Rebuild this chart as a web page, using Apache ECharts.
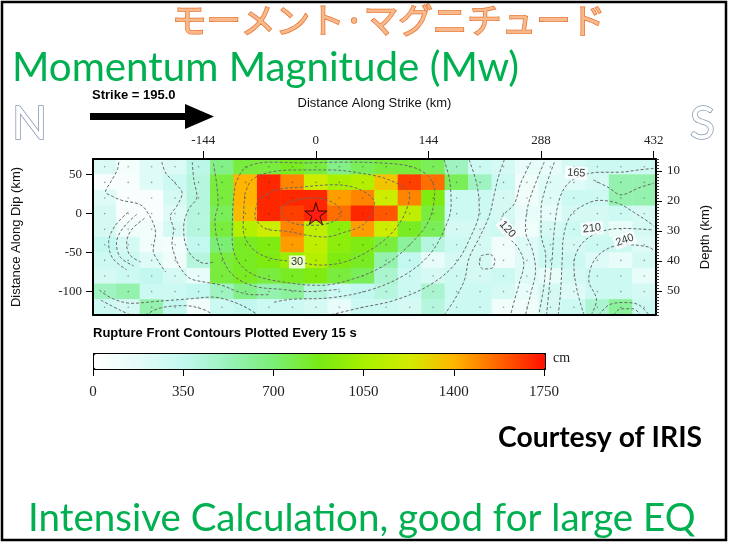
<!DOCTYPE html>
<html><head><meta charset="utf-8">
<script src="https://cdn.jsdelivr.net/npm/echarts@6/dist/echarts.min.js"></script>
<style>html,body{margin:0;padding:0;background:#fff}#c{width:729px;height:544px}</style>
</head><body><div id="c"></div>
<script>
// ---- data ----
const strikeCenters = [-270,-240,-210,-180,-150,-120,-90,-60,-30,0,30,60,90,120,150,180,210,240,270,300,330,360,390,420];
const dipCenters = [60,40,20,0,-20,-40,-60,-80,-100,-120]; // top to bottom
const slipRow0 = [220,80,200,220,380,650,800,800,850,800,650,750,800,800,750,500,300,250,150,150,250,300,300,300];
const slipRow1 = [50,50,200,300,400,800,1400,1700,1500,1200,1050,1100,1350,1650,1550,750,500,300,100,200,200,250,550,550];
const slipRow2 = [200,50,50,250,400,800,1400,1700,1700,1700,1450,1500,1200,1500,900,300,300,250,100,200,300,300,550,550];
const slipRow3 = [250,50,50,200,400,750,1380,1700,1650,1700,1550,1700,1600,1150,800,300,300,250,150,150,250,250,300,250];
const slipRow4 = [250,100,100,250,400,800,1100,1200,1500,1150,950,1450,1200,850,750,250,250,300,100,250,300,250,150,250];
const slipRow5 = [350,250,100,80,350,700,850,900,1450,1150,950,900,800,600,400,300,250,100,200,300,250,300,300,200];
const slipRow6 = [300,300,200,100,400,800,850,900,1000,1100,900,850,550,350,150,250,250,100,200,300,300,200,150,250];
const slipRow7 = [250,300,350,250,150,800,850,800,850,900,800,750,450,300,250,300,250,300,200,150,250,300,300,150];
const slipRow8 = [500,550,300,300,350,500,650,550,600,400,300,350,400,300,450,300,300,250,150,250,200,300,300,250];
const slipRow9 = [300,250,550,350,100,300,350,300,300,250,150,300,300,250,400,300,300,100,100,250,300,450,600,300];
const slipRows = [slipRow0,slipRow1,slipRow2,slipRow3,slipRow4,slipRow5,slipRow6,slipRow7,slipRow8,slipRow9];

const strikeTicks = [-144,0,144,288,432];
const dipTicks = [-100,-50,0,50];
const depthTicks = [10,20,30,40,50];
const hypocenter = [0,0];

// rupture-front contours (km along strike, km along dip)
const contourLines = [
  [[-240,2],[-257,-16],[-265,-37],[-260,-57],[-242,-72]],
  [[-229,-1],[-247,-19],[-255,-38],[-250,-56],[-233,-67]],
  [[-219,-6],[-236,-21],[-242,-38],[-238,-53],[-224,-62]],
  [[-252,66],[-254,56],[-262,41],[-269,28],[-260,22],[-248,17],[-224,11],[-212,-4],[-205,-25],[-208,-47],[-201,-62],[-192,-75]],
  [[-197,66],[-192,52],[-180,39],[-171,26],[-177,11],[-186,-4],[-182,-21],[-184,-38],[-180,-55],[-173,-70],[-161,-83],[-141,-88],[-120,-92],[-100,-100],[-80,-104],[-60,-104]],
  [[-158,66],[-156,43],[-152,22],[-163,5],[-169,-17],[-167,-38],[-158,-55],[-141,-64],[-131,-62]],
  [[-131,64],[-127,39],[-125,13],[-129,-8],[-127,-30],[-120,-55],[-112,-72],[-98,-85],[-75,-94],[-45,-97],[-10,-100],[30,-97]],
  [[-277,-98],[-260,-109],[-235,-115],[-209,-113],[-184,-111],[-158,-109],[-133,-107],[-112,-111],[-90,-120],[-74,-130]],
  [[-275,-111],[-250,-124],[-237,-130]],
  [[-218,-130],[-199,-121],[-167,-118],[-141,-124],[-132,-130]],
  [[-44,9],[-27,17],[-1,20],[24,13],[33,0],[20,-11],[-1,-15],[-27,-13],[-42,-4],[-44,9]],
  [[-74,17],[-52,30],[-18,34],[24,37],[58,30],[75,13],[62,-13],[33,-25],[12,-30],[-10,-28],[-35,-23],[-65,-19],[-78,-2],[-74,17]],
  [[-91,24],[-82,43],[-59,53],[-20,56],[18,56],[56,52],[94,43],[120,24],[113,-2],[94,-28],[69,-47],[37,-62],[5,-66],[-24,-62],[-59,-57],[-82,-44],[-93,-19],[-91,24]],
  [[-103,37],[-91,58],[-59,66],[-14,65],[31,66],[82,65],[133,56],[152,30],[145,-8],[120,-40],[88,-66],[50,-83],[5,-92],[-40,-88],[-78,-79],[-99,-62],[-107,-34],[-106,11],[-103,37]],
  [[164,69],[171,43],[173,11],[164,-21],[145,-53],[113,-79],[69,-98],[18,-108],[-33,-110],[-55,-114]],
  [[196,69],[206,37],[209,5],[196,-34],[177,-66],[145,-92],[101,-111],[56,-121],[18,-130]],
  [[241,69],[234,49],[228,24],[222,-2],[209,-31],[196,-57],[190,-85],[177,-111],[164,-130]],
  [[211,-54],[222,-52],[229,-60],[225,-70],[214,-71],[209,-63],[211,-54]],
  [[275,66],[262,39],[254,13],[237,-8],[241,-25],[258,-43],[266,-64],[260,-90],[254,-111],[249,-130]],
  [[292,66],[281,39],[271,9],[268,-21],[277,-47],[281,-72],[275,-102],[268,-130]],
  [[305,66],[294,34],[288,5],[288,-25],[294,-55],[292,-90],[285,-130]],
  [[295,-130],[298,-100],[302,-60],[305,-20],[311,17],[321,37],[336,47],[362,53],[387,53],[413,56],[432,58]],
  [[310,-130],[313,-100],[315,-60],[317,-28],[326,-2],[343,11],[362,17],[387,13],[406,2],[426,-11],[432,-16]],
  [[355,43],[375,33],[390,24],[413,33],[432,39]],
  [[343,-130],[334,-98],[330,-66],[339,-40],[362,-24],[394,-19],[432,-21]],
  [[352,-130],[359,-111],[349,-85],[356,-60],[375,-44],[400,-40],[426,-43],[432,-47]],
  [[362,-130],[375,-117],[394,-114],[413,-117],[426,-130]],
  [[381,-130],[390,-122],[406,-122],[415,-130]]
];
const contourLabelText = ['30','120','165','210','240'];
const contourLabelPos = [[-24,-62],[245,-20],[333,52],[353,-19],[395,-34]];

// ---- build ----
const yCats = dipCenters.slice().reverse();
const heatData = [];
const dotData = [];
slipRows.forEach((row, r) => row.forEach((v, c) => {
  heatData.push([c, dipCenters.length - 1 - r, v]);
  dotData.push([c, dipCenters.length - 1 - r]);
}));
const labelRotate = [0, -48, -4, 6, 20];
const contourSeries = contourLines.map(pts => ({
  type: 'line', xAxisIndex: 1, yAxisIndex: 1, data: pts, showSymbol: false, symbol: 'none',
  smooth: 0.35, silent: true, z: 5,
  lineStyle: { color: '#6a6a6a', width: 1, type: [3, 2] }
}));
const starPath = 'path://M50,0 L61,35 L98,35 L68,57 L79,91 L50,70 L21,91 L32,57 L2,35 L39,35 Z';
const serif = 'Liberation Serif';
const sans = 'Liberation Sans';
const plain = v => String(v);

const option = {
  animation: false,
  backgroundColor: '#fff',
  title: [
    { text: 'モーメント·マグニチュード', left: 172, top: 3, padding: 0,
      textStyle: { fontFamily: 'Noto Sans CJK JP', fontSize: 34.5, fontWeight: 'normal', color: '#f8b98c', textBorderColor: '#e8742f', textBorderWidth: 1.5 } },
    { text: 'Momentum Magnitude (Mw)', left: 12, top: 48, padding: 0,
      textStyle: { fontFamily: 'Lato', fontSize: 40.3, fontWeight: 'normal', color: '#00b050' } },
    { text: 'Strike = 195.0', left: 92, top: 89, padding: 0,
      textStyle: { fontFamily: sans, fontSize: 13, fontWeight: 'bold', color: '#000' } },
    { text: 'N', left: 12, top: 101, padding: 0,
      textStyle: { fontFamily: 'Lato', fontSize: 46, fontWeight: 'normal', color: '#fff', textBorderColor: '#8496b0', textBorderWidth: 1.5 } },
    { text: 'S', left: 690, top: 101, padding: 0,
      textStyle: { fontFamily: 'Lato', fontSize: 46, fontWeight: 'normal', color: '#fff', textBorderColor: '#8496b0', textBorderWidth: 1.5 } },
    { text: 'Rupture Front Contours Plotted Every 15 s', left: 93, top: 327, padding: 0,
      textStyle: { fontFamily: sans, fontSize: 13, fontWeight: 'bold', color: '#000' } },
    { text: 'cm', left: 553, top: 351, padding: 0,
      textStyle: { fontFamily: serif, fontSize: 14, fontWeight: 'normal', color: '#222' } },
    { text: 'Courtesy of IRIS', left: 498, top: 424, padding: 0,
      textStyle: { fontFamily: 'Lato', fontSize: 28.3, fontWeight: 'bold', color: '#000' } },
    { text: 'Intensive Calculation, good for large EQ', left: 28, top: 499, padding: 0,
      textStyle: { fontFamily: 'Lato', fontSize: 38.5, fontWeight: 'normal', color: '#00b050' } }
  ],
  graphic: [
    { type: 'rect', shape: { x: 2, y: 2, width: 724, height: 538 }, style: { fill: 'none', stroke: '#000', lineWidth: 2.5 }, z: 100 },
    { type: 'polygon', shape: { points: [[90,113],[185,113],[185,104],[214,116.5],[185,129],[185,120],[90,120]] }, style: { fill: '#000' } }
  ],
  grid: [
    { left: 93, top: 159, width: 563, height: 156, show: false },
    { left: 93, top: 353, width: 451, height: 15, show: false }
  ],
  xAxis: [
    { type: 'category', gridIndex: 0, data: strikeCenters, position: 'bottom', z: 10,
      axisLine: { show: true, onZero: false, lineStyle: { color: '#000', width: 2 } },
      axisTick: { show: false }, axisLabel: { show: false }, splitLine: { show: false } },
    { type: 'value', gridIndex: 0, position: 'top', min: -285, max: 435, z: 10,
      name: 'Distance Along Strike (km)', nameLocation: 'middle', nameGap: 49,
      nameTextStyle: { fontFamily: sans, fontSize: 13, color: '#111' },
      axisLine: { show: true, onZero: false, lineStyle: { color: '#000', width: 2 } },
      axisTick: { show: true, customValues: strikeTicks, length: 8, lineStyle: { color: '#000', width: 1 } },
      axisLabel: { show: true, customValues: strikeTicks, formatter: plain, margin: 12, fontFamily: serif, fontSize: 13, color: '#222' },
      splitLine: { show: false } },
    { type: 'value', gridIndex: 1, position: 'bottom', min: 0, max: 1750, interval: 350,
      axisLine: { show: false },
      axisTick: { show: true, length: 8, lineStyle: { color: '#000', width: 1 } },
      axisLabel: { show: true, formatter: plain, margin: 17, fontFamily: serif, fontSize: 15, color: '#222' },
      splitLine: { show: false } }
  ],
  yAxis: [
    { type: 'category', gridIndex: 0, data: yCats, show: false },
    { type: 'value', gridIndex: 0, position: 'left', min: -130, max: 70, z: 10,
      name: 'Distance Along Dip (km)', nameLocation: 'middle', nameGap: 70, nameRotate: 90,
      nameTextStyle: { fontFamily: sans, fontSize: 13, color: '#111' },
      axisLine: { show: true, onZero: false, lineStyle: { color: '#000', width: 2 } },
      axisTick: { show: true, customValues: dipTicks, length: 7, lineStyle: { color: '#000', width: 1 } },
      axisLabel: { show: true, customValues: dipTicks, formatter: plain, margin: 11, fontFamily: serif, fontSize: 13, color: '#222' },
      splitLine: { show: false } },
    { type: 'value', gridIndex: 0, position: 'right', min: 6, max: 58, interval: 1, inverse: true, z: 10,
      name: 'Depth (km)', nameLocation: 'middle', nameGap: 43, nameRotate: 90,
      nameTextStyle: { fontFamily: sans, fontSize: 13, color: '#111' },
      axisLine: { show: true, onZero: false, lineStyle: { color: '#000', width: 2 } },
      axisTick: { show: true, length: 3, lineStyle: { color: '#333', width: 1 } },
      axisLabel: { show: true, customValues: depthTicks, formatter: plain, margin: 11, fontFamily: serif, fontSize: 13, color: '#222' },
      splitLine: { show: false } },
    { type: 'value', gridIndex: 0, position: 'right', min: 6, max: 58, inverse: true, z: 10,
      axisLine: { show: false },
      axisTick: { show: true, customValues: depthTicks, length: 6, lineStyle: { color: '#000', width: 1 } },
      axisLabel: { show: false }, splitLine: { show: false } },
    { type: 'value', gridIndex: 1, show: false, min: 0, max: 1 }
  ],
  visualMap: {
    type: 'continuous', min: 0, max: 1750, seriesIndex: 0, orient: 'horizontal',
    left: 93, top: 353, itemWidth: 15, itemHeight: 451, calculable: false, hoverLink: false,
    padding: 0, borderColor: '#000', borderWidth: 2, showLabel: false,
    inRange: { color: ['#ffffff','#e4fbf8','#c2f8ef','#98f2b8','#7aef74','#78ea14','#a8f000','#d2ec00','#ffb400','#ff6200','#ff1000'] }
  },
  series: [
    { type: 'heatmap', xAxisIndex: 0, yAxisIndex: 0, data: heatData, silent: true, z: 1,
      itemStyle: { borderWidth: 0 } },
    { type: 'scatter', xAxisIndex: 0, yAxisIndex: 0, data: dotData, symbolSize: 1.6, silent: true, z: 3,
      itemStyle: { color: 'rgba(40,40,40,0.55)' } },
    ...contourSeries,
    { type: 'scatter', xAxisIndex: 1, yAxisIndex: 1, silent: true, z: 8, symbolSize: 0,
      data: contourLabelPos.map((p, i) => ({ value: p, name: contourLabelText[i], label: { rotate: labelRotate[i] } })),
      label: { show: true, position: 'inside', formatter: '{b}', fontFamily: sans, fontSize: 11, color: '#000',
        backgroundColor: '#fff', padding: [1, 2] } },
    { type: 'scatter', xAxisIndex: 1, yAxisIndex: 1, silent: true, z: 9, data: [hypocenter],
      symbol: starPath, symbolSize: 22,
      itemStyle: { color: '#ff1a1a', borderColor: '#000', borderWidth: 1 } }
  ]
};
const chart = echarts.init(document.getElementById('c'), null, { renderer: 'canvas' });
chart.setOption(option);
</script></body></html>
